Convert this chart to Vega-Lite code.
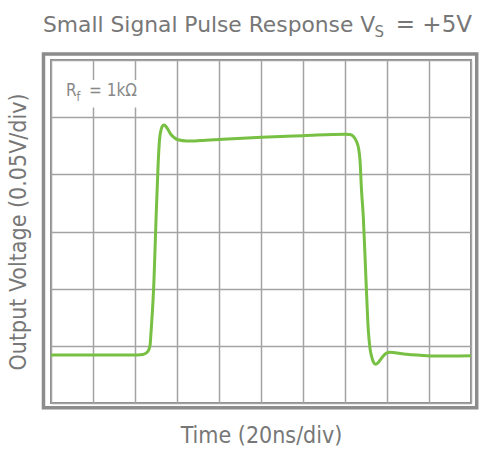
{
  "$schema": "https://vega.github.io/schema/vega-lite/v6.json",
  "width": 420,
  "height": 343,
  "autosize": {"type": "none"},
  "padding": {"left": 51, "top": 60, "right": 13, "bottom": 46},
  "background": "white",
  "config": {
    "view": {"stroke": "#8c8c8c", "strokeWidth": 2},
    "font": "DejaVu Sans Condensed, DejaVu Sans",
    "axis": {
      "labels": false, "ticks": false, "domain": false, "grid": true,
      "gridColor": "#a3a3a3", "gridWidth": 1.5,
      "titleFont": "DejaVu Sans Condensed, DejaVu Sans",
      "titleFontSize": 23, "titleFontWeight": "normal", "titleColor": "#777777"
    }
  },
  "data": {"values": [
    {"t": 0, "v": 0.841}, {"t": 2.071, "v": 0.841}, {"t": 2.19, "v": 0.849}, {"t": 2.274, "v": 0.879},
    {"t": 2.329, "v": 0.932}, {"t": 2.362, "v": 1.028}, {"t": 2.374, "v": 1.156}, {"t": 2.452, "v": 2.149},
    {"t": 2.5, "v": 3.2}, {"t": 2.555, "v": 4.25}, {"t": 2.583, "v": 4.6}, {"t": 2.619, "v": 4.776},
    {"t": 2.662, "v": 4.851}, {"t": 2.698, "v": 4.863}, {"t": 2.738, "v": 4.837}, {"t": 2.798, "v": 4.767},
    {"t": 2.857, "v": 4.697}, {"t": 2.929, "v": 4.645}, {"t": 3.024, "v": 4.604}, {"t": 3.231, "v": 4.583},
    {"t": 3.548, "v": 4.59}, {"t": 4.095, "v": 4.613}, {"t": 5.017, "v": 4.648}, {"t": 6.007, "v": 4.676},
    {"t": 7.0, "v": 4.702}, {"t": 7.119, "v": 4.697}, {"t": 7.202, "v": 4.662}, {"t": 7.279, "v": 4.566},
    {"t": 7.321, "v": 4.461}, {"t": 7.357, "v": 4.25}, {"t": 7.393, "v": 3.725}, {"t": 7.436, "v": 3.257},
    {"t": 7.5, "v": 2.149}, {"t": 7.555, "v": 1.273}, {"t": 7.595, "v": 0.958}, {"t": 7.636, "v": 0.806},
    {"t": 7.679, "v": 0.713}, {"t": 7.731, "v": 0.678}, {"t": 7.786, "v": 0.704}, {"t": 7.833, "v": 0.748},
    {"t": 7.905, "v": 0.818}, {"t": 7.993, "v": 0.876}, {"t": 8.071, "v": 0.888}, {"t": 8.15, "v": 0.883},
    {"t": 8.31, "v": 0.865}, {"t": 8.469, "v": 0.853}, {"t": 8.786, "v": 0.835}, {"t": 9.024, "v": 0.823},
    {"t": 9.5, "v": 0.823}, {"t": 10, "v": 0.827}
  ]},
  "layer": [
    {
      "mark": {"type": "line", "color": "#77c043", "strokeWidth": 3, "interpolate": "monotone"},
      "encoding": {
        "x": {"field": "t", "type": "quantitative",
              "scale": {"domain": [0, 10], "nice": false, "zero": false},
              "axis": {"values": [0,1,2,3,4,5,6,7,8,9,10], "title": "Time (20ns/div)", "titlePadding": 21}},
        "y": {"field": "v", "type": "quantitative",
              "scale": {"domain": [0, 6], "nice": false, "zero": false},
              "axis": {"values": [0,1,2,3,4,5,6], "title": "Output Voltage (0.05V/div)", "titlePadding": 21}}
      }
    },
    {
      "data": {"values": [{}]},
      "mark": {"type": "rect", "fill": "white", "stroke": null},
      "encoding": {
        "x": {"datum": 0.2}, "x2": {"datum": 2.3},
        "y": {"datum": 5.17}, "y2": {"datum": 5.65}
      }
    },
    {
      "data": {"values": [{}]},
      "mark": {"type": "rect", "fill": null, "stroke": "#8c8c8c", "strokeWidth": 3.5},
      "encoding": {
        "x": {"datum": -0.179}, "x2": {"datum": 10.136},
        "y": {"datum": -0.081}, "y2": {"datum": 6.107}
      }
    },
    {
      "data": {"values": [{"s": "R"}]},
      "mark": {"type": "text", "align": "left", "baseline": "alphabetic", "fontSize": 17, "color": "#888888"},
      "encoding": {"text": {"field": "s"}, "x": {"datum": 0.357}, "y": {"datum": 5.37}}
    },
    {
      "data": {"values": [{"s": "f"}]},
      "mark": {"type": "text", "align": "left", "baseline": "alphabetic", "fontSize": 12, "color": "#888888"},
      "encoding": {"text": {"field": "s"}, "x": {"datum": 0.607}, "y": {"datum": 5.29}}
    },
    {
      "data": {"values": [{"s": "= 1kΩ"}]},
      "mark": {"type": "text", "align": "left", "baseline": "alphabetic", "fontSize": 17, "color": "#888888"},
      "encoding": {"text": {"field": "s"}, "x": {"datum": 0.905}, "y": {"datum": 5.37}}
    },
    {
      "data": {"values": [{"s": "Small Signal Pulse Response V"}]},
      "mark": {"type": "text", "align": "left", "baseline": "alphabetic", "font": "DejaVu Sans", "fontSize": 21.8, "color": "#777777"},
      "encoding": {"text": {"field": "s"}, "x": {"datum": -0.19}, "y": {"datum": 6.495}}
    },
    {
      "data": {"values": [{"s": "S"}]},
      "mark": {"type": "text", "align": "left", "baseline": "alphabetic", "font": "DejaVu Sans", "fontSize": 15, "color": "#777777"},
      "encoding": {"text": {"field": "s"}, "x": {"datum": 7.7}, "y": {"datum": 6.41}}
    },
    {
      "data": {"values": [{"s": "= +5V"}]},
      "mark": {"type": "text", "align": "right", "baseline": "alphabetic", "font": "DejaVu Sans", "fontSize": 23, "color": "#777777"},
      "encoding": {"text": {"field": "s"}, "x": {"datum": 10.024}, "y": {"datum": 6.495}}
    }
  ]
}
